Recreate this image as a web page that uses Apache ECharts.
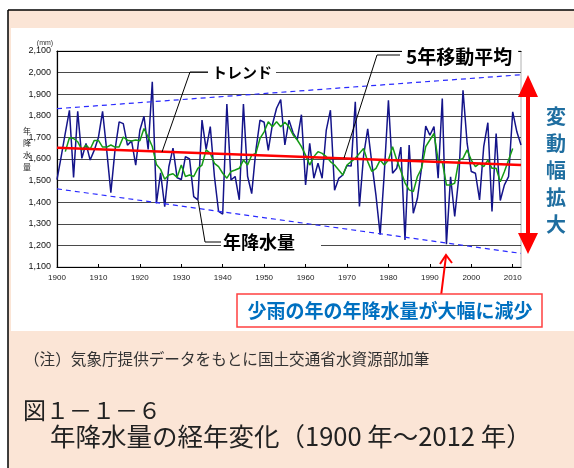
<!DOCTYPE html>
<html><head><meta charset="utf-8">
<script src="https://cdn.jsdelivr.net/npm/echarts@6/dist/echarts.min.js"></script>
<style>html,body{margin:0;padding:0;background:#fff}#c{width:574px;height:468px}</style>
</head><body><div id="c"></div>
<script>
// ---- data ----
const firstYear = 1900;
const annualPrecip = [
 1505,1610,1720,1825,1515,1821,1603,1672,1595,1641,
 1700,1821,1640,1444,1641,1772,1764,1664,1684,1572,
 1733,1798,1644,1957,1395,1536,1379,1564,1650,1513,
 1505,1611,1600,1426,1411,1780,1645,1750,1519,1357,
 1345,1854,1503,1519,1411,1854,1520,1440,1640,1780,
 1770,1640,1760,1835,1875,1665,1780,1720,1690,1805,
 1480,1672,1511,1580,1511,1734,1826,1455,1510,1526,
 1570,1567,1865,1380,1615,1740,1580,1430,1250,1534,
 1872,1534,1557,1655,1225,1665,1349,1418,1560,1752,
 1710,1750,1511,1880,1206,1518,1334,1518,1918,1672,
 1542,1534,1411,1657,1768,1357,1718,1408,1480,1518,
 1818,1726,1665];
const maFirstYear = 1902;
const movingAvg5 = [
 1634,1698,1695,1680,1642,1665,1645,1686,
 1686,1655,1655,1665,1655,1656,1702,1687,1683,1688,
 1685,1741,1702,1658,1575,1552,1506,1526,1532,1515,
 1572,1519,1526,1519,1557,1572,1642,1626,1580,1565,
 1534,1511,1542,1549,1557,1595,1572,1618,1626,1695,
 1726,1772,1749,1772,1749,1770,1749,1711,1688,1657,
 1618,1572,1611,1634,1626,1611,1588,1572,1549,1526,
 1572,1588,1603,1626,1649,1588,1542,1557,1595,1572,
 1595,1657,1595,1545,1490,1457,1449,1519,1557,1657,
 1688,1718,1595,1588,1480,1480,1488,1595,1603,1642,
 1595,1565,1580,1565,1595,1557,1557,1495,1542,1595,
 1649];
const lineYears = [1900, 2012];
const trendValues = [1652, 1572];
const upperEnvelope = [1833, 1990];
const lowerEnvelope = [1462, 1163];
const yRange = [1100, 2100, 100];
const xRange = [1900, 2012, 10];

const pairs = (y0, arr) => arr.map((v, i) => [y0 + i, v]);
const pairs2 = (xs, vs) => xs.map((x, i) => [x, vs[i]]);

const JP = '"Noto Sans CJK JP", sans-serif';
const NARROW = '"Liberation Sans Narrow", "Liberation Sans", Arial, sans-serif';

const chart = echarts.init(document.getElementById('c'), null, {renderer: 'canvas'});

const graphic = [
  // frame
  {type:'rect', z:-100, shape:{x:8, y:10, width:566, height:458}, style:{fill:'#FBE5D6'}},
  {type:'rect', z:-99, shape:{x:11, y:28, width:563, height:303}, style:{fill:'#ffffff'}},
  {type:'line', z:-98, shape:{x1:8, y1:10, x2:574, y2:10}, style:{stroke:'#000', lineWidth:1.5}},
  {type:'line', z:-98, shape:{x1:8, y1:10, x2:8, y2:468}, style:{stroke:'#000', lineWidth:1.5}},
  // axis unit and title
  {type:'text', z:50, style:{x:45, y:43, text:'(mm)', font:'7px ' + NARROW, fill:'#333', align:'center', verticalAlign:'middle'}},
  {type:'text', z:50, style:{x:27, y:149, text:'年\n降\n水\n量', font:'8px ' + JP, fill:'#222', align:'center', verticalAlign:'middle', lineHeight:12}},
  // トレンド
  {type:'polyline', z:100, shape:{points:[[162,152],[190,72],[208,72]]}, style:{stroke:'#000', lineWidth:1, fill:null}},
  {type:'text', z:101, style:{x:208, y:72, text:'トレンド', font:'bold 15px ' + JP, fill:'#000', align:'left', verticalAlign:'middle', backgroundColor:'#fff', padding:[1,4,1,4]}},
  // 5年移動平均
  {type:'polyline', z:100, shape:{points:[[344,158],[377,55],[400,55]]}, style:{stroke:'#000', lineWidth:1, fill:null}},
  {type:'text', z:101, style:{x:402, y:57, text:'5年移動平均', font:'bold 19px ' + JP, fill:'#000', align:'left', verticalAlign:'middle', backgroundColor:'#fff', padding:[1,6,1,4]}},
  // 年降水量
  {type:'polyline', z:100, shape:{points:[[198,200],[205,242],[222,242]]}, style:{stroke:'#000', lineWidth:1, fill:null}},
  {type:'text', z:101, style:{x:221, y:242, text:'年降水量', font:'bold 18px ' + JP, fill:'#000', align:'left', verticalAlign:'middle', backgroundColor:'#fff', padding:[2,26,2,2]}},
  // big red double arrow
  {type:'polygon', z:100, shape:{points:[[528,75],[518,97],[526,97],[526,233],[518,233],[528,254],[538,233],[530,233],[530,97],[538,97]]}, style:{fill:'#ff0000'}},
  {type:'text', z:100, style:{x:556, y:103, text:'変\n動\n幅\n拡\n大', font:'bold 20px ' + JP, fill:'#1F6EA0', align:'center', verticalAlign:'top', lineHeight:27}},
  // small red arrow
  {type:'line', z:100, shape:{x1:441, y1:296, x2:446, y2:256}, style:{stroke:'#ff0000', lineWidth:2}},
  {type:'polyline', z:100, shape:{points:[[440,264],[446,255],[452,263]]}, style:{stroke:'#ff0000', lineWidth:2, fill:null}},
  // callout box
  {type:'rect', z:100, shape:{x:237, y:294, width:305, height:33}, style:{fill:'#fff', stroke:'#ff4040', lineWidth:1.5}},
  {type:'text', z:101, style:{x:390, y:311, text:'少雨の年の年降水量が大幅に減少', font:'bold 19px ' + JP, fill:'#0070C0', align:'center', verticalAlign:'middle'}},
  // note and caption
  {type:'text', z:50, style:{x:24, y:359, text:'（注）気象庁提供データをもとに国土交通省水資源部加筆', font:'15.6px ' + JP, fill:'#333', align:'left', verticalAlign:'middle'}},
  {type:'text', z:50, style:{x:23, y:410, text:'図１－１－６', font:'23px ' + JP, fill:'#222', align:'left', verticalAlign:'middle'}},
  {type:'text', z:50, style:{x:50, y:436, text:'年降水量の経年変化（1900 年～2012 年）', font:'25.5px ' + JP, fill:'#222', align:'left', verticalAlign:'middle'}}
];

const option = {
  animation: false,
  backgroundColor: 'transparent',
  grid: {left:57, top:51, width:464, height:216, show:true, borderColor:'#b0b0b0', borderWidth:1, backgroundColor:'transparent'},
  xAxis: [{
    type:'value', min:xRange[0], max:xRange[1], interval:xRange[2],
    axisLine:{show:true, onZero:false, lineStyle:{color:'#000', width:1.2}},
    axisTick:{show:true, inside:true, length:3, lineStyle:{color:'#000'}},
    axisLabel:{show:true, showMaxLabel:false, margin:7, fontSize:8, color:'#222', fontFamily:NARROW,
      formatter:(v)=> (v % 10 === 0 ? String(v) : '')},
    splitLine:{show:false}
  },{
    type:'value', position:'top', min:xRange[0], max:xRange[1], interval:xRange[2],
    axisLine:{show:true, onZero:false, lineStyle:{color:'#000', width:1.2}},
    axisTick:{show:false}, axisLabel:{show:false}, splitLine:{show:false}
  }],
  yAxis: {
    type:'value', min:yRange[0], max:yRange[1], interval:yRange[2],
    axisLine:{show:true, lineStyle:{color:'#000', width:1.2}},
    axisTick:{show:false},
    axisLabel:{margin:6, fontSize:9, color:'#111', fontFamily:NARROW,
      formatter:(v)=> v.toLocaleString('en-US')},
    splitLine:{show:true, lineStyle:{color:'#4a4a4a', width:1}}
  },
  graphic: graphic,
  series: [
    {type:'line', name:'年降水量', data:pairs(firstYear, annualPrecip), symbol:'none', z:3,
      lineStyle:{color:'#14148a', width:1.5}},
    {type:'line', name:'5年移動平均', data:pairs(maFirstYear, movingAvg5), symbol:'none', z:4,
      lineStyle:{color:'#159a15', width:1.5}},
    {type:'line', name:'トレンド', data:pairs2(lineYears, trendValues), symbol:'none', z:5,
      lineStyle:{color:'#ff0000', width:2.5}},
    {type:'line', name:'upper', data:pairs2(lineYears, upperEnvelope), symbol:'none', z:5,
      lineStyle:{color:'#2a2aff', width:1.2, type:[5,4]}},
    {type:'line', name:'lower', data:pairs2(lineYears, lowerEnvelope), symbol:'none', z:5,
      lineStyle:{color:'#2a2aff', width:1.2, type:[5,4]}}
  ]
};
chart.setOption(option);
</script></body></html>
